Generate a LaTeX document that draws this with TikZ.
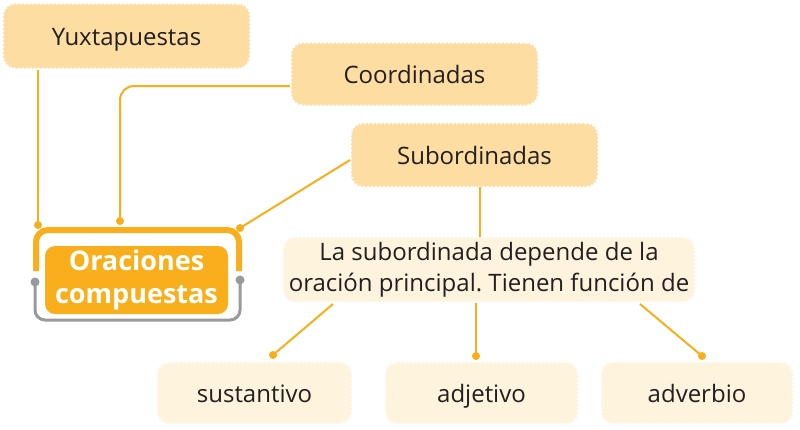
\documentclass[tikz,border=0pt]{standalone}
\usepackage{fontspec}
\setmainfont{Open Sans}
\frenchspacing
\begin{document}
\begin{tikzpicture}[x=1pt,y=-1pt,
  cbox/.style={fill=boxA,draw=white,line width=2pt,dash pattern=on 2pt off 2pt,rounded corners=12pt,inner sep=0pt,font=\fontsize{24}{31}\selectfont\color{txt}},
  lowt/.style={text height=20pt,text depth=2pt},
  lbox/.style={cbox,fill=boxB},
  conn/.style={draw=lineO,line width=2pt},
  dotO/.style={circle,fill=lineO,inner sep=0pt,minimum size=8pt},
  dotG/.style={circle,fill=grayL,inner sep=0pt,minimum size=9pt}]
\definecolor{boxA}{HTML}{FDDDA1}
\definecolor{boxB}{HTML}{FEF3DD}
\definecolor{lineO}{HTML}{F9AE1B}
\definecolor{grayL}{HTML}{9A9A9C}
\definecolor{txt}{HTML}{231F20}
\useasboundingbox (0,0) rectangle (800,429);
\fill[white] (0,0) rectangle (800,429);
% boxes
\node[cbox,lowt,minimum width=247pt,minimum height=65pt] (yux) at (126.5,36) {Yuxtapuestas};
\node[cbox,lowt,minimum width=247pt,minimum height=63pt] (coo) at (414.5,74) {Coordinadas};
\node[cbox,lowt,minimum width=247pt,minimum height=64pt] (sub) at (474.5,155) {Subordinadas};
\node[lbox,minimum width=412pt,minimum height=65pt,align=center] (dep) at (489,269.5) {La subordinada depende de la\\oración principal. Tienen función de};
\node[lbox,lowt,minimum width=195pt,minimum height=62pt] (sus) at (254.5,393) {sustantivo};
\node[lbox,lowt,minimum width=193pt,minimum height=62pt] (adj) at (481.5,393) {adjetivo};
\node[lbox,lowt,minimum width=192pt,minimum height=62pt] (adv) at (697,393) {adverbio};
% main node
\node[fill=lineO,rounded corners=10pt,minimum width=183pt,minimum height=68pt,inner sep=0pt,align=center,text=white,font=\fontsize{27}{33}\selectfont\bfseries] (ora) at (136.5,280) {Oraciones\\compuestas};
% brackets
\coordinate (bl) at (36,271);
\coordinate (br) at (239,271);
\draw[lineO,line width=6pt,rounded corners=12pt] (bl) |- (137,230) -| (br);
\coordinate (gl) at (35,282);
\coordinate (gr) at (240,280);
\draw[grayL,line width=3pt,rounded corners=10pt] (gl) |- (137,320) -| (gr);
\node[dotG] at (gl) {};
\node[dotG] at (gr) {};
% connectors
\coordinate (d1) at (38,225);
\coordinate (d2) at (120,221);
\coordinate (d3) at (240,228);
\draw[conn] (yux.south -| d1) -- (d1);
\draw[conn,rounded corners=14pt] (coo.west |- 0,86) -- (120,86) -- (d2);
\draw[conn] (sub.west |- 0,160) -- (d3);
\node[dotO] at (d1) {};
\node[dotO] at (d2) {};
\node[dotO] at (d3) {};
\draw[conn] (480,187) -- (480,237);
\coordinate (e1) at (273,355);
\coordinate (e2) at (476,356);
\coordinate (e3) at (702,356);
\draw[conn] (333,304) -- (e1);
\draw[conn] (476,303) -- (e2);
\draw[conn] (640,304) -- (e3);
\node[dotO] at (e1) {};
\node[dotO] at (e2) {};
\node[dotO] at (e3) {};
\end{tikzpicture}
\end{document}
